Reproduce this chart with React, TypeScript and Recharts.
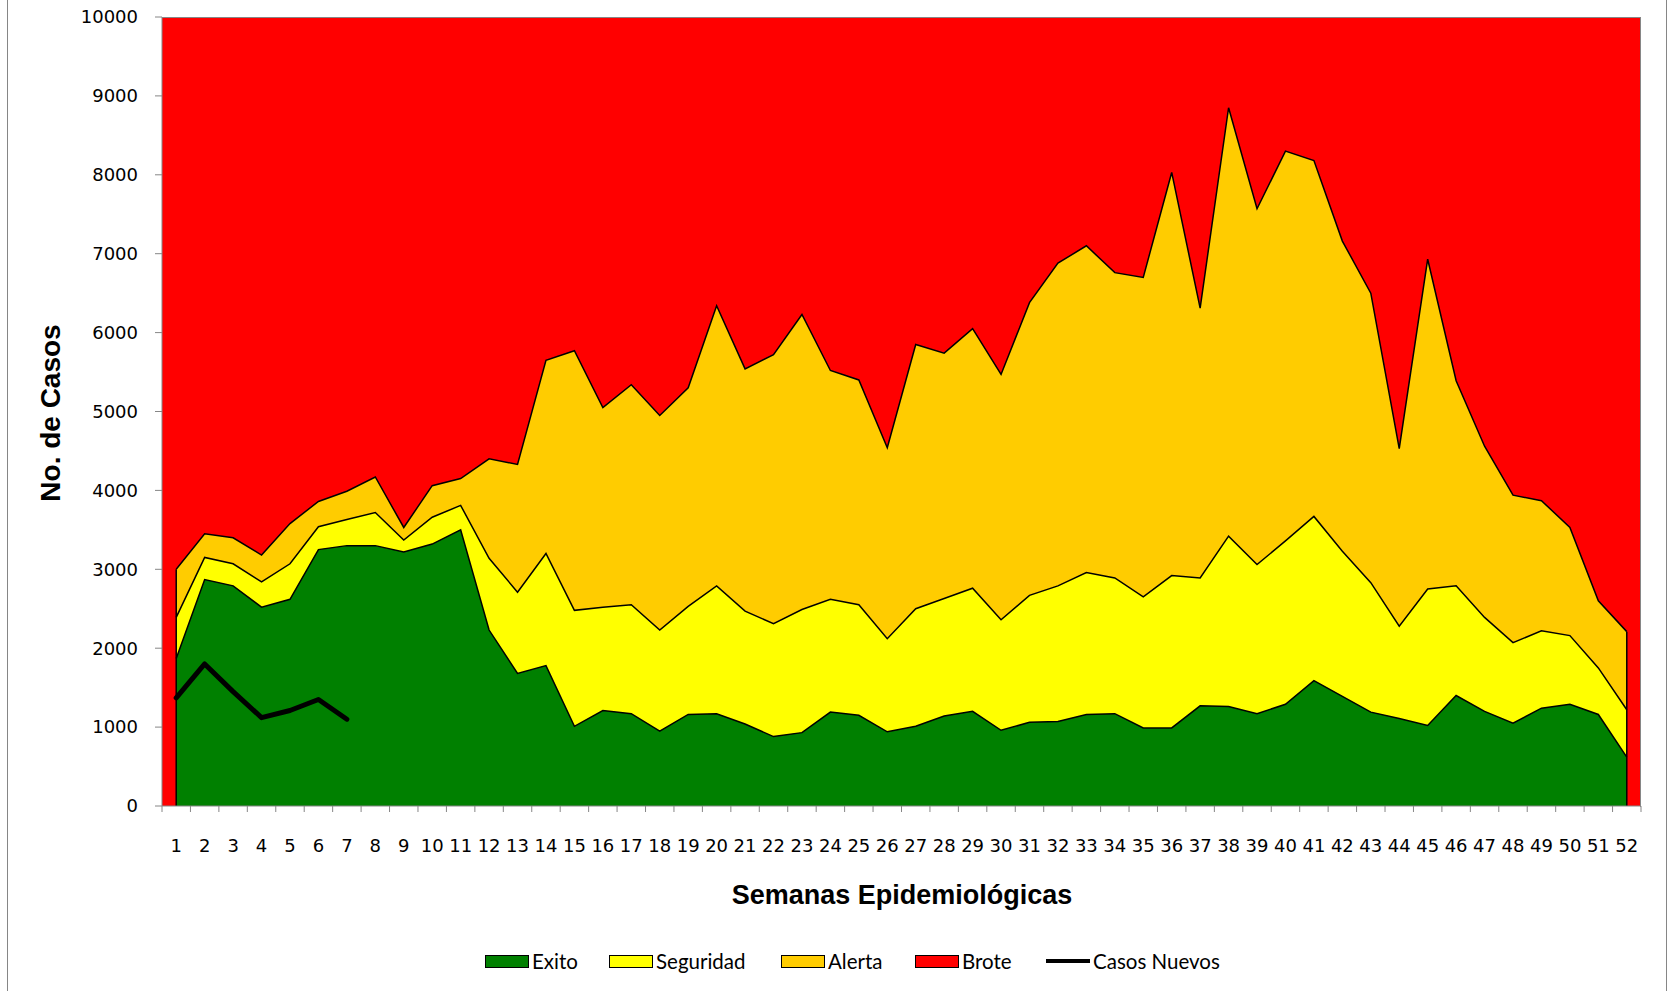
import React from 'react';
import { ComposedChart, Area, Bar, Line, XAxis, YAxis, ReferenceLine } from 'recharts';

const semanas = [
  '1', '2', '3', '4', '5', '6', '7', '8', '9', '10', '11', '12', '13',
  '14', '15', '16', '17', '18', '19', '20', '21', '22', '23', '24', '25', '26',
  '27', '28', '29', '30', '31', '32', '33', '34', '35', '36', '37', '38', '39',
  '40', '41', '42', '43', '44', '45', '46', '47', '48', '49', '50', '51', '52',
];

// upper limit of each zone (cases)
const exito = [
  1870, 2870, 2790, 2520, 2620, 3250, 3300, 3300, 3220, 3320, 3500, 2230, 1680,
  1780, 1010, 1210, 1170, 950, 1160, 1170, 1040, 880, 930, 1190, 1150, 940,
  1010, 1140, 1200, 960, 1060, 1070, 1160, 1170, 990, 990, 1270, 1260, 1170,
  1290, 1590, 1390, 1190, 1110, 1020, 1400, 1200, 1050, 1240, 1290, 1160, 620,
];

const seguridad = [
  2390, 3150, 3070, 2840, 3070, 3540, 3630, 3720, 3370, 3660, 3810, 3140, 2710,
  3200, 2480, 2520, 2550, 2230, 2530, 2790, 2470, 2310, 2490, 2620, 2550, 2120,
  2500, 2630, 2760, 2360, 2670, 2790, 2960, 2890, 2650, 2920, 2890, 3420, 3060,
  3360, 3670, 3230, 2830, 2280, 2750, 2790, 2390, 2070, 2220, 2160, 1750, 1220,
];

const alerta = [
  3000, 3450, 3400, 3180, 3580, 3860, 3990, 4170, 3530, 4060, 4150, 4400, 4330,
  5650, 5770, 5050, 5340, 4950, 5300, 6340, 5540, 5720, 6230, 5520, 5400, 4540,
  5850, 5740, 6050, 5470, 6380, 6880, 7100, 6760, 6700, 8030, 6310, 8850, 7570,
  8300, 8180, 7160, 6500, 4530, 6930, 5390, 4560, 3940, 3870, 3530, 2600, 2210,
];

const BROTE_TOPE = 10000;

const casosNuevos = [1370, 1800, 1450, 1120, 1210, 1350, 1100];

const yTicks = [0, 1000, 2000, 3000, 4000, 5000, 6000, 7000, 8000, 9000, 10000];

const data = semanas.map((s, i) => ({
  semana: s,
  exito: exito[i],
  seguridad: seguridad[i],
  alerta: alerta[i],
  brote: BROTE_TOPE,
  casos: i < casosNuevos.length ? casosNuevos[i] : null,
}));

const PLOT_LEFT = 162;
const PLOT_RIGHT = 1641;
const PLOT_TOP = 17;
const PLOT_BOTTOM = 806;
const BAND = (PLOT_RIGHT - PLOT_LEFT) / semanas.length;
const GRIS = '#868686';
const tickFont = '"DejaVu Sans", Verdana, sans-serif';

function SemanaTick(props: any) {
  const { x, y, payload, index } = props;
  const last = index === semanas.length - 1;
  return (
    <g>
      <line x1={x - BAND / 2} x2={x - BAND / 2} y1={y} y2={y + 6} stroke={GRIS} strokeWidth={1} />
      {last && <line x1={x + BAND / 2} x2={x + BAND / 2} y1={y} y2={y + 6} stroke={GRIS} strokeWidth={1} />}
      <text x={x} y={y + 33} dy="0.71em" textAnchor="middle" fontFamily={tickFont} fontSize={18} fill="#000">
        {payload.value}
      </text>
    </g>
  );
}

function BroteShape(props: any) {
  const { x, y, width, height } = props;
  return <rect x={x} y={y} width={width + 0.6} height={height} fill="#FF0000" shapeRendering="crispEdges" />;
}

const leyenda = [
  { name: 'Exito', color: '#008000', left: 485 },
  { name: 'Seguridad', color: '#FFFF00', left: 609 },
  { name: 'Alerta', color: '#FFCC00', left: 781 },
  { name: 'Brote', color: '#FF0000', left: 915 },
  { name: 'Casos Nuevos', color: null, left: 1046 },
];

export default function App() {
  return (
    <div style={{ position: 'absolute', left: 0, top: 0, width: 1668, height: 991, background: '#fff', overflow: 'hidden' }}>
      <div style={{ position: 'absolute', left: 7, top: -2, width: 1658, height: 1000, borderLeft: `1px solid ${GRIS}`, borderRight: `1px solid ${GRIS}` }} />
      <ComposedChart
        width={1668}
        height={991}
        data={data}
        margin={{ top: PLOT_TOP, right: 1668 - PLOT_RIGHT, bottom: 991 - PLOT_BOTTOM - 40, left: PLOT_LEFT - 100 }}
        barCategoryGap={0}
        barGap={0}
      >
        <XAxis
          dataKey="semana"
          height={40}
          interval={0}
          tickSize={0}
          tickMargin={0}
          tickLine={false}
          axisLine={{ stroke: GRIS, strokeWidth: 1 }}
          tick={<SemanaTick />}
        />
        <YAxis
          width={100}
          domain={[0, 10000]}
          ticks={yTicks}
          interval={0}
          tickSize={7}
          tickMargin={17}
          tickLine={{ stroke: GRIS }}
          axisLine={{ stroke: GRIS, strokeWidth: 1 }}
          tick={{ fontFamily: tickFont, fontSize: 18, fill: '#000' }}
        />
        <Bar dataKey="brote" fill="#FF0000" shape={<BroteShape />} isAnimationActive={false} zIndex={10} />
        <Area type="linear" dataKey="alerta" fill="#FFCC00" fillOpacity={1} stroke="#000" strokeWidth={1.5} isAnimationActive={false} zIndex={20} />
        <Area type="linear" dataKey="seguridad" fill="#FFFF00" fillOpacity={1} stroke="#000" strokeWidth={1.5} isAnimationActive={false} zIndex={30} />
        <Area type="linear" dataKey="exito" fill="#008000" fillOpacity={1} stroke="#000" strokeWidth={1.5} isAnimationActive={false} zIndex={40} />
        <ReferenceLine segment={[{ x: semanas[0], y: 0 }, { x: semanas[0], y: alerta[0] }]} stroke="#000" strokeWidth={1.5} zIndex={45} />
        <ReferenceLine
          segment={[{ x: semanas[semanas.length - 1], y: 0 }, { x: semanas[semanas.length - 1], y: alerta[alerta.length - 1] }]}
          stroke="#000"
          strokeWidth={1.5}
          zIndex={45}
        />
        <Line type="linear" dataKey="casos" stroke="#000" strokeWidth={5} strokeLinecap="round" strokeLinejoin="round" dot={false} connectNulls={false} isAnimationActive={false} zIndex={50} />
      </ComposedChart>
      <div style={{ position: 'absolute', left: PLOT_LEFT, top: PLOT_TOP, width: PLOT_RIGHT - PLOT_LEFT - 1, height: PLOT_BOTTOM - PLOT_TOP, borderTop: `1px solid ${GRIS}`, borderRight: `1px solid ${GRIS}`, pointerEvents: 'none' }} />
      <div
        style={{
          position: 'absolute', left: 51, top: 413, transform: 'translate(-50%, -50%) rotate(-90deg)',
          fontFamily: '"Liberation Sans", Arial, sans-serif', fontWeight: 'bold', fontSize: 28, whiteSpace: 'nowrap', color: '#000',
        }}
      >
        No. de Casos
      </div>
      <div
        style={{
          position: 'absolute', left: 902, top: 895, transform: 'translate(-50%, -50%)',
          fontFamily: '"Liberation Sans", Arial, sans-serif', fontWeight: 'bold', fontSize: 27, whiteSpace: 'nowrap', color: '#000',
        }}
      >
        Semanas Epidemiológicas
      </div>
      {leyenda.map((it) => (
        <div key={it.name} style={{ position: 'absolute', left: it.left, top: 947, height: 28, display: 'flex', alignItems: 'center', fontFamily: 'Lato, "Open Sans", sans-serif', fontSize: 20.5, color: '#000', whiteSpace: 'nowrap' }}>
          {it.color ? (
            <span style={{ display: 'inline-block', width: 42, height: 11, background: it.color, border: '1px solid #000' }} />
          ) : (
            <span style={{ display: 'inline-block', width: 44, height: 4, background: '#000' }} />
          )}
          <span style={{ marginLeft: 3 }}>{it.name}</span>
        </div>
      ))}
    </div>
  );
}
